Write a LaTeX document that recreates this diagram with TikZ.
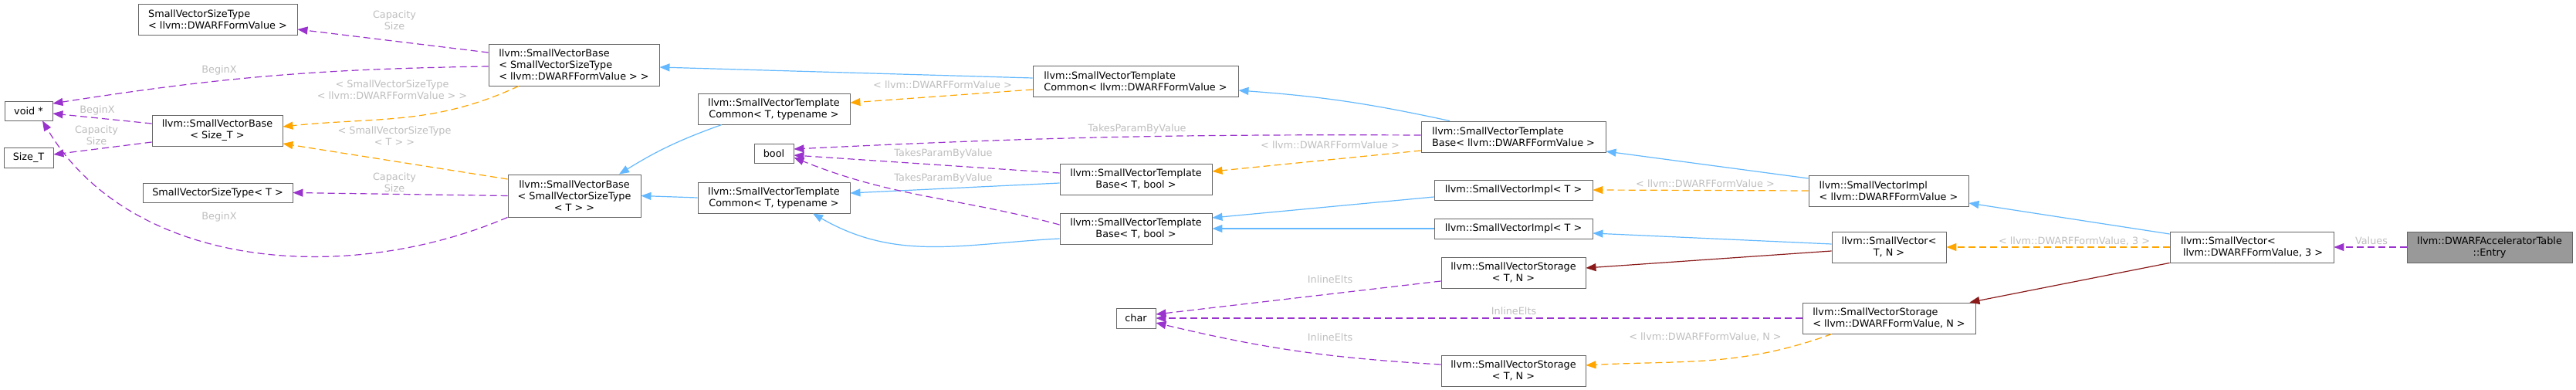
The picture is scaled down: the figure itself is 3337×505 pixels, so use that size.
\documentclass[tikz,border=0pt]{standalone}
\usepackage{fontspec}
\setmainfont{DejaVu Sans}
\usetikzlibrary{arrows.meta}
\definecolor{usecol}{HTML}{9A32CD}
\definecolor{tmplcol}{HTML}{FFA500}
\definecolor{pubcol}{HTML}{63B8FF}
\definecolor{privcol}{HTML}{8B1A1A}
\definecolor{boxcol}{HTML}{666666}
\definecolor{rootcol}{HTML}{999999}
\definecolor{lblcol}{HTML}{BEBEBE}

\begin{document}
\begin{tikzpicture}[x=1pt,y=1pt,
    cls/.style={draw=boxcol,fill=white,line width=0.9pt,inner sep=1pt,font=\fontsize{12.8}{15}\selectfont},
    lbl/.style={text=lblcol,align=center,inner sep=0pt,font=\fontsize{12.8}{15}\selectfont},
    usage/.style={draw=usecol,line width=1.2pt,dash pattern=on 9pt off 5pt,-{Triangle[length=13pt,width=10pt]}},
    tmpl/.style={draw=tmplcol,line width=1.2pt,dash pattern=on 9pt off 5pt,-{Triangle[length=13pt,width=10pt]}},
    pub/.style={draw=pubcol,line width=1.2pt,-{Triangle[length=13pt,width=10pt]}},
    priv/.style={draw=privcol,line width=1.2pt,-{Triangle[length=13pt,width=10pt]}}]
    \useasboundingbox (0,0) rectangle (3337,-505);

    \node[cls,minimum width=206,minimum height=40,align=left] (svstDW) at (282,-25) {SmallVectorSizeType\\< llvm::DWARFFormValue >};
    \node[cls,minimum width=221,minimum height=54,align=left] (svbDW) at (743.5,-84) {llvm::SmallVectorBase\\< SmallVectorSizeType\\< llvm::DWARFFormValue > >};
    \node[cls,minimum width=62,minimum height=25] (voidp) at (37,-143.5) {void *};
    \node[cls,minimum width=169,minimum height=40,align=center] (svbSize) at (281.5,-169) {llvm::SmallVectorBase\\< Size\_T >};
    \node[cls,minimum width=64,minimum height=26] (sizeT) at (37,-204) {Size\_T};
    \node[cls,minimum width=194,minimum height=25] (svstT) at (282,-249.5) {SmallVectorSizeType< T >};
    \node[cls,minimum width=172,minimum height=55,align=center] (svbT) at (744,-253.5) {llvm::SmallVectorBase\\< SmallVectorSizeType\\< T > >};
    \node[cls,minimum width=266,minimum height=40,align=left] (svtcDW) at (1471,-105) {llvm::SmallVectorTemplate\\Common< llvm::DWARFFormValue >};
    \node[cls,minimum width=197,minimum height=40,align=center] (svtcTop) at (1002.5,-141) {llvm::SmallVectorTemplate\\Common< T, typename >};
    \node[cls,minimum width=51,minimum height=25] (boolN) at (1002.5,-198.5) {bool};
    \node[cls,minimum width=197,minimum height=40,align=center] (svtbUp) at (1471.5,-232) {llvm::SmallVectorTemplate\\Base< T, bool >};
    \node[cls,minimum width=197,minimum height=40,align=center] (svtcLow) at (1002.5,-256) {llvm::SmallVectorTemplate\\Common< T, typename >};
    \node[cls,minimum width=197,minimum height=40,align=center] (svtbLow) at (1471.5,-296) {llvm::SmallVectorTemplate\\Base< T, bool >};
    \node[cls,minimum width=51,minimum height=26] (charN) at (1471.5,-412) {char};
    \node[cls,minimum width=239,minimum height=40,align=left] (svtbDW) at (1960.5,-177) {llvm::SmallVectorTemplate\\Base< llvm::DWARFFormValue >};
    \node[cls,minimum width=205,minimum height=26] (sviUp) at (1960.5,-246) {llvm::SmallVectorImpl< T >};
    \node[cls,minimum width=205,minimum height=26] (sviLow) at (1960.5,-296) {llvm::SmallVectorImpl< T >};
    \node[cls,minimum width=187,minimum height=40,align=center] (svsUp) at (1960.5,-353) {llvm::SmallVectorStorage\\< T, N >};
    \node[cls,minimum width=187,minimum height=40,align=center] (svsLow) at (1960.5,-480) {llvm::SmallVectorStorage\\< T, N >};
    \node[cls,minimum width=207,minimum height=40,align=left] (sviDW) at (2446.5,-247) {llvm::SmallVectorImpl\\< llvm::DWARFFormValue >};
    \node[cls,minimum width=148,minimum height=40,align=center] (svN) at (2447,-320) {llvm::SmallVector<\\T, N >};
    \node[cls,minimum width=224,minimum height=40,align=left] (svsDW) at (2447,-412) {llvm::SmallVectorStorage\\< llvm::DWARFFormValue, N >};
    \node[cls,minimum width=212,minimum height=40,align=left] (svDW3) at (2917,-320) {llvm::SmallVector<\\\hspace*{3pt}llvm::DWARFFormValue, 3 >};
    \node[cls,fill=rootcol,minimum width=214,minimum height=40,align=center] (entry) at (3225,-320) {llvm::DWARFAcceleratorTable\\::Entry};

    \draw[usage] ([yshift=16]svbDW.west) -- ([yshift=-13]svstDW.east);
    \draw[usage] ([yshift=-2]svbDW.west) to[bend right=4] ([yshift=9.5]voidp.east);
    \draw[tmpl] ([xshift=-71.5]svbDW.south) to[out=-155,in=6] ([yshift=5]svbSize.east);
    \draw[usage] ([yshift=9]svbSize.west) -- ([yshift=-3.5]voidp.east);
    \draw[usage] ([yshift=-15]svbSize.west) -- ([yshift=4]sizeT.east);
    \draw[tmpl] ([yshift=21.5]svbT.west) -- ([yshift=-17]svbSize.east);
    \draw[usage] (svbT.west) -- (svstT.east);
    \draw[usage] (svbT.south west) .. controls (450,-370) and (170,-350) .. ([xshift=18]voidp.south);
    \draw[pub] ([yshift=4]svtcDW.west) -- ([yshift=-3]svbDW.east);
    \draw[tmpl] ([yshift=-11]svtcDW.west) -- ([yshift=8]svtcTop.east);
    \draw[pub] ([xshift=-67.5]svtcTop.south) to[bend right=6] ([xshift=58]svbT.north);
    \draw[pub] (svtcLow.west) -- (svbT.east);
    \draw[usage] ([yshift=2]svtbDW.west) to[bend right=1.5] ([yshift=5.5]boolN.east);
    \draw[tmpl] ([yshift=-18]svtbDW.west) -- ([yshift=10]svtbUp.east);
    \draw[usage] ([yshift=8]svtbUp.west) -- ([yshift=-2.5]boolN.east);
    \draw[pub] ([yshift=-5]svtbUp.west) -- ([yshift=6]svtcLow.east);
    \draw[usage] ([yshift=5]svtbLow.west) to[out=165,in=-22] ([yshift=-5.5]boolN.east);
    \draw[pub] ([yshift=-13]svtbLow.west) to[out=183,in=-30] ([xshift=50.5]svtcLow.south);
    \draw[pub] ([xshift=-82.5]svtbDW.north) to[bend right=4] ([yshift=-12]svtcDW.east);
    \draw[pub] ([yshift=-9]sviUp.west) -- ([yshift=14]svtbLow.east);
    \draw[pub] (sviLow.west) -- (svtbLow.east);
    \draw[pub] ([yshift=16]sviDW.west) -- ([yshift=-19]svtbDW.east);
    \draw[tmpl] (sviDW.west) -- (sviUp.east);
    \draw[pub] ([yshift=4]svN.west) -- ([yshift=-6]sviLow.east);
    \draw[priv] ([yshift=-5]svN.west) -- ([yshift=6]svsUp.east);
    \draw[usage] ([yshift=-11]svsUp.west) -- ([yshift=5]charN.east);
    \draw[usage] (svsDW.west) -- (charN.east);
    \draw[usage] ([yshift=8]svsLow.west) to[bend left=5] ([yshift=-6]charN.east);
    \draw[tmpl] ([xshift=-74]svsDW.south) to[out=-160,in=3] ([yshift=7]svsLow.east);
    \draw[pub] ([yshift=17]svDW3.west) -- ([yshift=-16]sviDW.east);
    \draw[tmpl] (svDW3.west) -- (svN.east);
    \draw[priv] (svDW3.south west) -- ([xshift=-8]svsDW.north east);
    \draw[usage] (entry.west) -- (svDW3.east);

    \node[lbl] (lCapDW) at (511,-26) {Capacity\\Size};
    \node[lbl] (lBeginDW) at (284,-91) {BeginX};
    \node[lbl] (lTmplSizeDW) at (508,-116) {< SmallVectorSizeType\\< llvm::DWARFFormValue > >};
    \node[lbl] (lBeginSize) at (126,-143) {BeginX};
    \node[lbl] (lCapSize) at (125,-175) {Capacity\\Size};
    \node[lbl] (lTmplSizeT) at (511,-176) {< SmallVectorSizeType\\< T > >};
    \node[lbl] (lCapT) at (511,-236) {Capacity\\Size};
    \node[lbl] (lBeginT) at (284,-281) {BeginX};
    \node[lbl] (lTmplCommon) at (1221,-110) {< llvm::DWARFFormValue >};
    \node[lbl] (lTakesDW) at (1473,-167) {TakesParamByValue};
    \node[lbl] (lTmplBase) at (1723,-188) {< llvm::DWARFFormValue >};
    \node[lbl] (lTakesUp) at (1222,-199) {TakesParamByValue};
    \node[lbl] (lTakesLow) at (1222,-231) {TakesParamByValue};
    \node[lbl] (lTmplImpl) at (2209,-238) {< llvm::DWARFFormValue >};
    \node[lbl] (lInlineUp) at (1723,-362) {InlineElts};
    \node[lbl] (lInlineDW) at (1961,-403) {InlineElts};
    \node[lbl] (lInlineLow) at (1723,-437) {InlineElts};
    \node[lbl] (lTmplStorage) at (2209,-436) {< llvm::DWARFFormValue, N >};
    \node[lbl] (lTmplVec) at (2687,-312) {< llvm::DWARFFormValue, 3 >};
    \node[lbl] (lValues) at (3072,-312) {Values};
\end{tikzpicture}
\end{document}
